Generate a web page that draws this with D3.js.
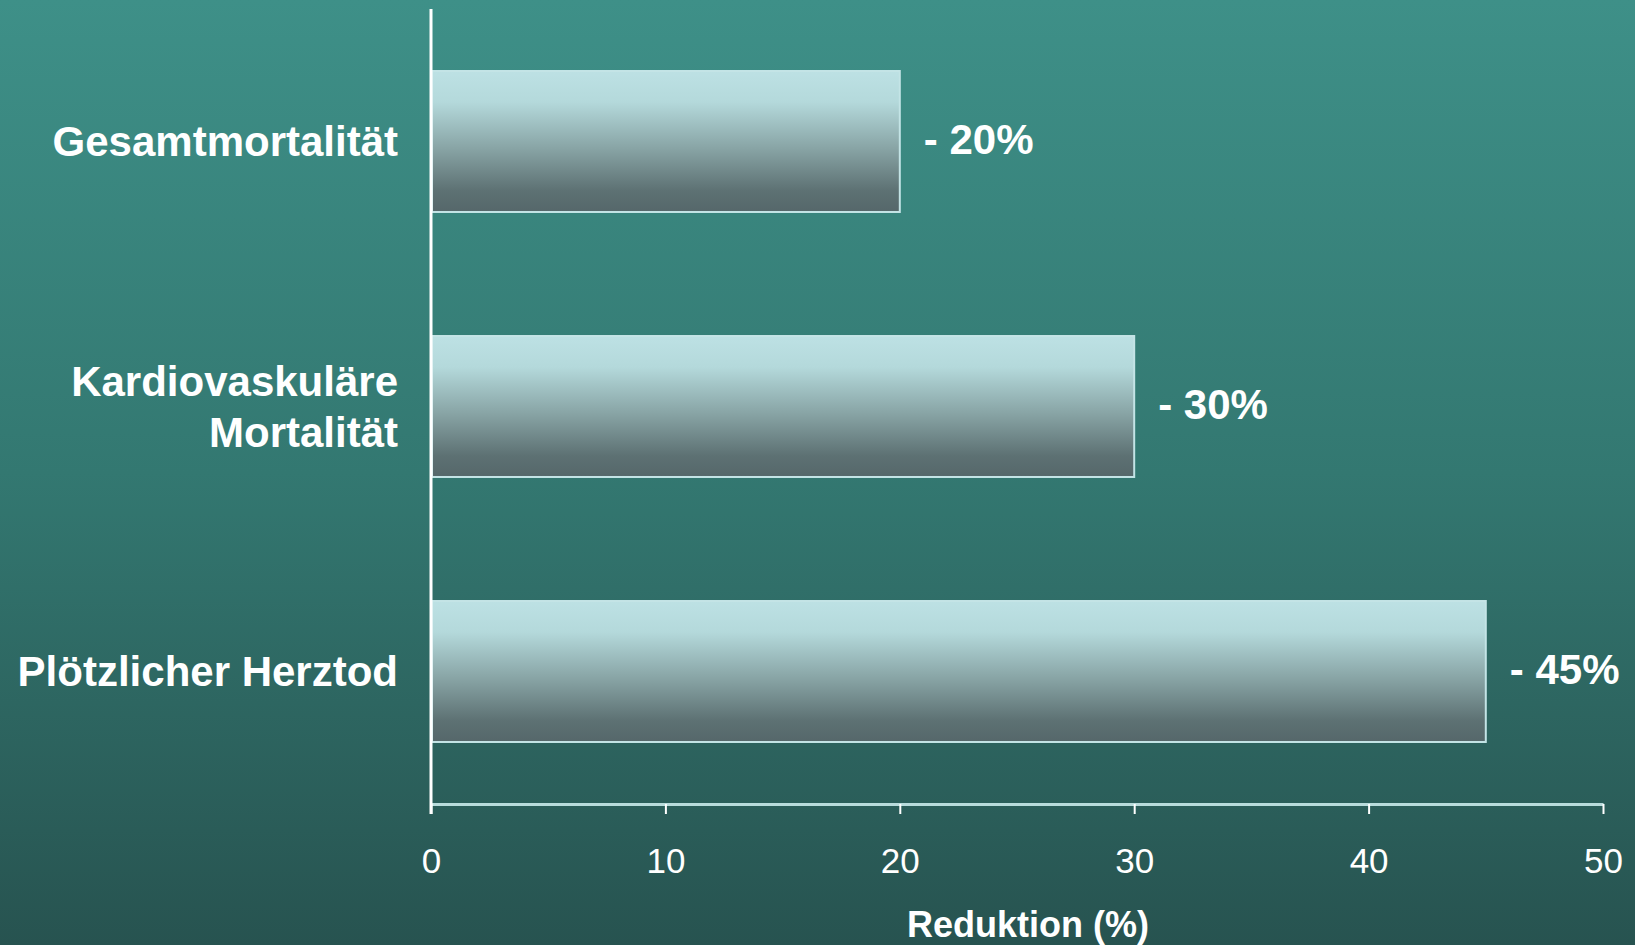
<!DOCTYPE html>
<html>
<head>
<meta charset="utf-8">
<script src="https://cdn.jsdelivr.net/npm/d3@7"></script>
<style>
html,body{margin:0;padding:0;overflow:hidden;}
svg{display:block;}
</style>
</head>
<body>
<svg id="chart" width="1635" height="945"></svg>
<script>
const categories = [["Gesamtmortalität"], ["Kardiovaskuläre", "Mortalität"], ["Plötzlicher Herztod"]];
const values = [20, 30, 45];
const valueLabels = ["- 20%", "- 30%", "- 45%"];
const xTicks = [0, 10, 20, 30, 40, 50];
const xTitle = "Reduktion (%)";

const FONT = "'Liberation Sans', Arial, Helvetica, sans-serif";
const W = 1635, H = 945;
const svg = d3.select("#chart");
const defs = svg.append("defs");

const bg = defs.append("linearGradient").attr("id","bg").attr("x1",0).attr("y1",0).attr("x2",0).attr("y2",1);
bg.append("stop").attr("offset","0%").attr("stop-color","#3e9088");
bg.append("stop").attr("offset","50%").attr("stop-color","#337871");
bg.append("stop").attr("offset","100%").attr("stop-color","#275350");

const bar = defs.append("linearGradient").attr("id","bar").attr("x1",0).attr("y1",0).attr("x2",0).attr("y2",1);
bar.append("stop").attr("offset","0%").attr("stop-color","#bde1e4");
bar.append("stop").attr("offset","22%").attr("stop-color","#b4d9db");
bar.append("stop").attr("offset","55%").attr("stop-color","#88a4a5");
bar.append("stop").attr("offset","85%").attr("stop-color","#5d7173");
bar.append("stop").attr("offset","100%").attr("stop-color","#55676a");

svg.append("rect").attr("width",W).attr("height",H).attr("fill","url(#bg)");

const x0 = 431, x1 = 1603, yTop = 9, yBase = 804;
const x = d3.scaleLinear().domain([0, 50]).range([x0, x1]);
const y = d3.scaleBand().domain(d3.range(categories.length)).range([yTop, yBase]).paddingInner(0.468).paddingOuter(0.234);

// bars
svg.append("g").selectAll("rect").data(values).join("rect")
  .attr("x", x(0)+1)
  .attr("y", (d,i)=>y(i))
  .attr("width", d=>x(d)-x(0)-1)
  .attr("height", y.bandwidth())
  .attr("fill","url(#bar)")
  .attr("stroke","#c4e4e6")
  .attr("stroke-width",2);

// value labels
svg.append("g").selectAll("text").data(values).join("text")
  .attr("x", d=>x(d)+24)
  .attr("y", (d,i)=>y(i)+y.bandwidth()/2 - 3)
  .attr("dy","0.36em")
  .attr("fill","#ffffff")
  .attr("font-family",FONT)
  .attr("font-weight","bold")
  .attr("font-size",42)
  .text((d,i)=>valueLabels[i]);

// category labels
const catG = svg.append("g");
categories.forEach((lines,i)=>{
  const cy = y(i)+y.bandwidth()/2;
  const lh = 51;
  const t = catG.append("text")
    .attr("text-anchor","end")
    .attr("fill","#ffffff")
    .attr("font-family",FONT)
    .attr("font-weight","bold")
    .attr("font-size",42);
  lines.forEach((ln,j)=>{
    t.append("tspan").attr("x",398)
      .attr("y", cy - (lines.length>1 ? 0 : 1) + (j-(lines.length-1)/2)*lh)
      .attr("dy","0.36em")
      .text(ln);
  });
});

// x axis
const xAxis = d3.axisBottom(x).tickValues(xTicks).tickSize(10).tickSizeOuter(0).tickFormat(d3.format("d"));
const gx = svg.append("g").attr("transform",`translate(0,${yBase})`).call(xAxis);
gx.select(".domain").attr("stroke","#b9dcdc").attr("stroke-width",3);
gx.selectAll(".tick line").attr("stroke","#ffffff").attr("stroke-width",2);
gx.selectAll(".tick text")
  .attr("fill","#ffffff")
  .attr("font-family",FONT)
  .attr("font-size",35)
  .attr("y",56).attr("dy","0.36em");

// y axis line
svg.append("line").attr("x1",x0).attr("x2",x0).attr("y1",yTop).attr("y2",yBase+10)
  .attr("stroke","#ffffff").attr("stroke-width",3);

// x title
svg.append("text")
  .attr("x",1028).attr("y",924).attr("dy","0.36em")
  .attr("text-anchor","middle")
  .attr("fill","#ffffff")
  .attr("font-family",FONT)
  .attr("font-weight","bold")
  .attr("font-size",36)
  .text(xTitle);
</script>
</body>
</html>
